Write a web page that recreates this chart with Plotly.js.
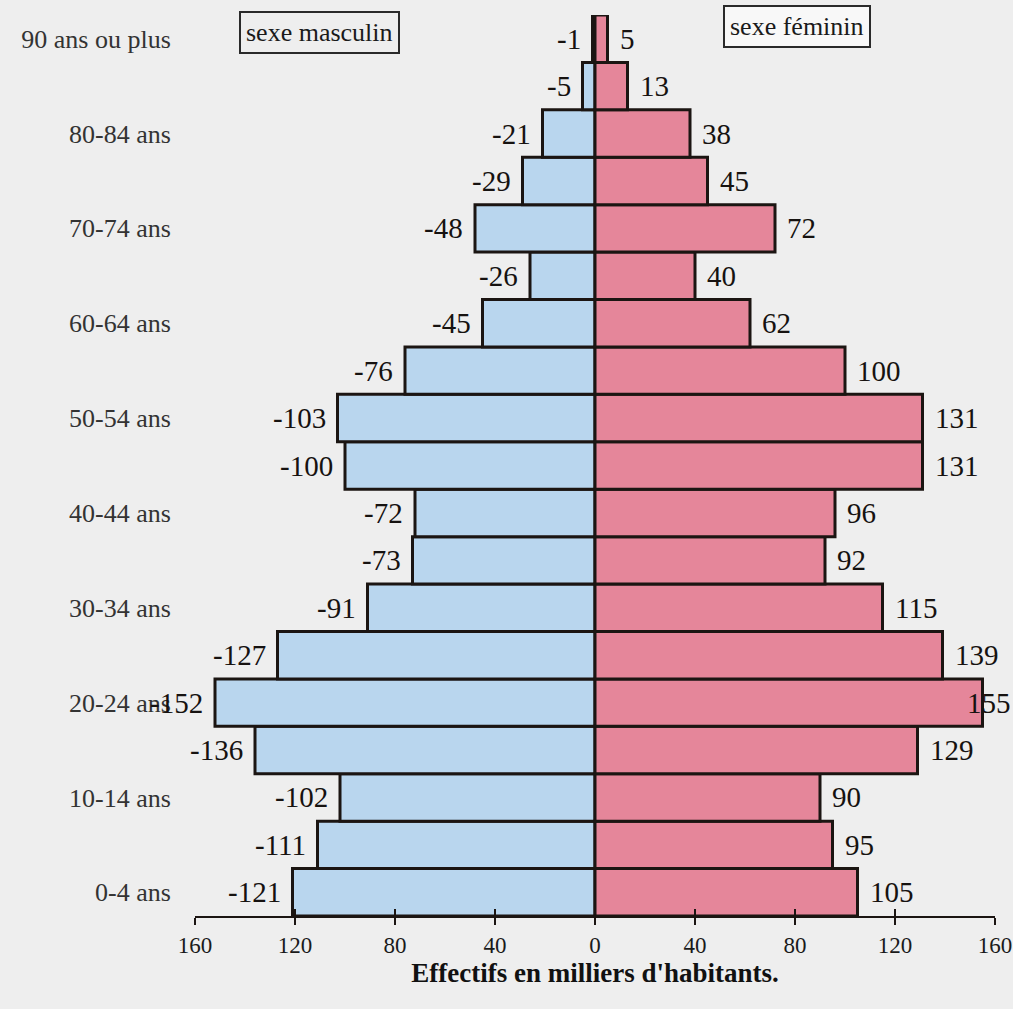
<!DOCTYPE html>
<html>
<head>
<meta charset="utf-8">
<script src="https://cdn.plot.ly/plotly-3.0.1.min.js"></script>
<style>
html,body{margin:0;padding:0;background:#eeeeee;}
#chart{width:1013px;height:1009px;}
</style>
</head>
<body>
<div id="chart"></div>
<script>
// Age groups, bottom to top
const ageGroups = ["0-4","5-9","10-14","15-19","20-24","25-29","30-34","35-39","40-44","45-49",
                   "50-54","55-59","60-64","65-69","70-74","75-79","80-84","85-89","90+"];
// Labels shown on the age axis (every other group)
const ageTickVals = ["0-4","10-14","20-24","30-34","40-44","50-54","60-64","70-74","80-84","90+"];
const ageTickText = ["0-4 ans","10-14 ans","20-24 ans","30-34 ans","40-44 ans","50-54 ans",
                     "60-64 ans","70-74 ans","80-84 ans","90 ans ou plus"];
// Thousands of inhabitants (male shown negative)
const male   = [-121,-111,-102,-136,-152,-127,-91,-73,-72,-100,-103,-76,-45,-26,-48,-29,-21,-5,-1];
const female = [105,95,90,129,155,139,115,92,96,131,131,100,62,40,72,45,38,13,5];
// Axis ticks
const xTickVals = [-160,-120,-80,-40,0,40,80,120,160];
const xTickText = ["160","120","80","40","0","40","80","120","160"];
const legendMale = "sexe masculin";
const legendFemale = "sexe féminin";
const axisTitle = "Effectifs en milliers d'habitants.";

const serif = "Liberation Serif, Times New Roman, serif";
const ink = "#1b1512";
const W = 1013, L = 195, R = 18, plotW = W - L - R;
const xRange = [-160,160];
const px = v => L + (v - xRange[0]) / (xRange[1]-xRange[0]) * plotW;

const traces = [
  {type:"bar", orientation:"h", y:ageGroups, x:male, xaxis:"x", yaxis:"y",
   marker:{color:"#b9d6ee", line:{color:ink, width:3}}, hoverinfo:"x+y"},
  {type:"bar", orientation:"h", y:ageGroups, x:female, xaxis:"x2", yaxis:"y",
   marker:{color:"#e5869a", line:{color:ink, width:3}}, hoverinfo:"x+y"}
];

const annotations = [];
const labFont = {family:serif, size:29, color:"#161210"};
male.forEach((v,i)=>{
  annotations.push({x:v, y:ageGroups[i], xref:"x", yref:"y", text:String(v),
    showarrow:false, xanchor:"right", yanchor:"middle", xshift:-10, font:labFont});
});
female.forEach((v,i)=>{
  const estW = String(v).length*14.5;
  if (px(v)+10+estW > W) {
    annotations.push({x:(W-L)/plotW, y:ageGroups[i], xref:"paper", yref:"y", text:String(v),
      showarrow:false, xanchor:"right", yanchor:"middle", font:labFont});
  } else {
    annotations.push({x:v, y:ageGroups[i], xref:"x2", yref:"y", text:String(v),
      showarrow:false, xanchor:"left", yanchor:"middle", xshift:10, font:labFont});
  }
});
// legend boxes
annotations.push({xref:"paper", yref:"paper", x:(319-L)/plotW, y:1.0, xanchor:"center", yanchor:"middle",
  yshift:-17, text:legendMale, showarrow:false, font:{family:serif, size:26, color:"#1a1a1a"},
  bordercolor:"#2a2a2a", borderwidth:2, borderpad:5, bgcolor:"rgba(0,0,0,0)"});
annotations.push({xref:"paper", yref:"paper", x:(797-L)/plotW, y:1.0, xanchor:"center", yanchor:"middle",
  yshift:-11, text:legendFemale, showarrow:false, font:{family:serif, size:26, color:"#1a1a1a"},
  bordercolor:"#2a2a2a", borderwidth:2, borderpad:5, bgcolor:"rgba(255,255,255,0.6)"});

const xCommon = {range:xRange, tickvals:xTickVals, ticktext:xTickText, zeroline:false,
  showgrid:false, showline:true, linecolor:ink, linewidth:2, tickcolor:ink, tickwidth:2,
  ticklen:7, fixedrange:true};

const layout = {
  width:W, height:1009,
  margin:{l:L, r:R, t:15, b:93},
  paper_bgcolor:"#eeeeee", plot_bgcolor:"rgba(0,0,0,0)",
  barmode:"overlay", bargap:0, showlegend:false,
  font:{family:serif, color:ink},
  xaxis:Object.assign({}, xCommon, {ticks:"outside",
    tickfont:{family:serif, size:23, color:"#1a1a1a"},
    title:{text:axisTitle, font:{family:serif, size:27, color:"#111", weight:"bold"}, standoff:6}}),
  xaxis2:Object.assign({}, xCommon, {overlaying:"x", side:"bottom", anchor:"y", ticks:"inside",
    showticklabels:false}),
  yaxis:{type:"category", categoryorder:"array", categoryarray:ageGroups,
    range:[-0.5, 18.5], tickvals:ageTickVals, ticktext:ageTickText,
    ticks:"outside", ticklen:18, tickcolor:"rgba(0,0,0,0)", showline:false, showgrid:false,
    zeroline:false, tickfont:{family:serif, size:26, color:"#333"}, fixedrange:true},
  annotations:annotations
};

Plotly.newPlot("chart", traces, layout, {displayModeBar:false, staticPlot:true});
</script>
</body>
</html>
